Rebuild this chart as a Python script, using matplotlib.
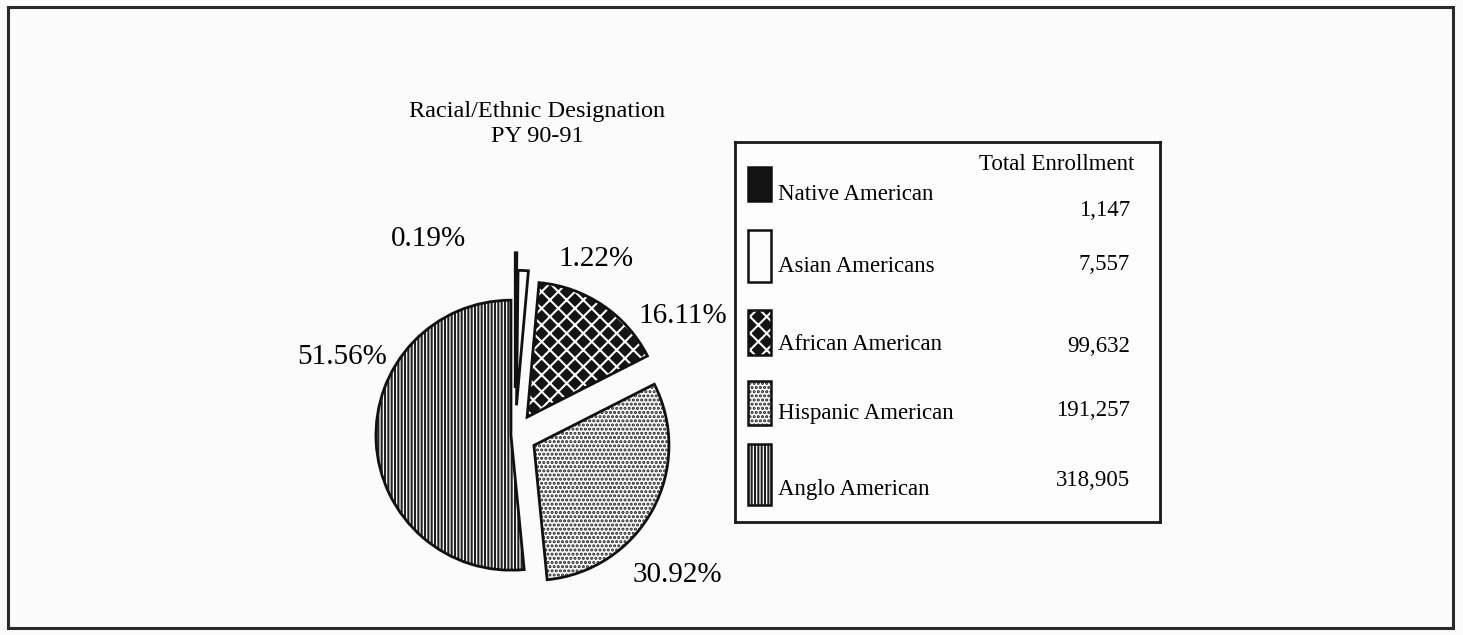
import matplotlib
matplotlib.use("Agg")
import matplotlib.pyplot as plt
from matplotlib.patches import Rectangle

plt.rcParams["font.family"] = ["Liberation Serif", "DejaVu Serif"]
plt.rcParams["hatch.linewidth"] = 1.5

# ---- data ----
groups = ["Native American", "Asian Americans", "African American",
          "Hispanic American", "Anglo American"]
enrollment = [1147, 7557, 99632, 191257, 318905]
title_lines = ["Racial/Ethnic Designation", "PY 90-91"]
value_header = "Total Enrollment"

# styles per group (face, hatch, hatch colour)
faces = ["#141414", "#fdfdfd", "#141414", "#fdfdfd", "#fdfdfd"]
hatches = [None, None, "xx", "....", "|||||"]
hatch_cols = ["#141414", "#141414", "#fdfdfd", "#202020", "#202020"]
explode = [0.35, 0.22, 0.16, 0.16, 0.03]

W, H, DPI = 1463, 635, 100
fig = plt.figure(figsize=(W / DPI, H / DPI), dpi=DPI)
fig.patch.set_facecolor("#fbfbfb")

# outer frame
fig.add_artist(Rectangle((8 / W, 7 / H), 1445 / W, 621 / H, transform=fig.transFigure,
                         fill=False, lw=2.2, ec="#2a2a2a"))

# ---- pie ----
R = 135.0
cx, cy = 515, H - 435
ax = fig.add_axes([(cx - 2 * R) / W, (cy - 1.4 * R) / H, 4 * R / W, 3.4 * R / H])
wedges, _, pcts = ax.pie(enrollment, explode=explode, startangle=90, counterclock=False,
                         autopct="%.2f%%", pctdistance=1.42,
                         wedgeprops=dict(lw=0), textprops=dict(fontsize=21))
for w, fc, h, hc in zip(wedges, faces, hatches, hatch_cols):
    w.set_facecolor(fc)
    w.set_edgecolor(hc)
    w.set_hatch(h)
# outlines on top
outl, _ = ax.pie(enrollment, explode=explode, startangle=90, counterclock=False,
                 wedgeprops=dict(fill=False, lw=2.0, ec="#111111"))
ax.set_xlim(-2, 2)
ax.set_ylim(-1.4, 2.0)

# place the two tiny-slice labels either side of the top
pcts[0].set_position((-0.64, 1.45))
pcts[1].set_position((0.60, 1.30))
pcts[2].set_position((1.24, 0.88))
pcts[3].set_position((1.20, -1.04))
pcts[4].set_position((-1.28, 0.58))

# title
fig.text(537 / W, 1 - 112 / H, title_lines[0], ha="center", va="center", fontsize=17.5)
fig.text(537 / W, 1 - 137 / H, title_lines[1], ha="center", va="center", fontsize=17.5)

# ---- legend box (pixel layout coords) ----
lg = fig.add_axes([735 / W, 1 - 522 / H, 425 / W, 380 / H])
lg.set_xlim(735, 1160)
lg.set_ylim(522, 142)
lg.set_xticks([])
lg.set_yticks([])
for s in lg.spines.values():
    s.set_linewidth(2.0)
    s.set_color("#1a1a1a")
lg.patch.set_facecolor("#fdfdfd")

lg.text(1057, 164, value_header, ha="center", va="center", fontsize=16.5)
sw_top = [167, 230, 310, 381, 444]
sw_h = [34, 52, 45, 44, 61]
lab_y = [195, 266, 345, 414, 490]
val_y = [210, 264, 347, 410, 481]
for i, g in enumerate(groups):
    lg.add_patch(Rectangle((748, sw_top[i]), 23, sw_h[i], facecolor=faces[i],
                           edgecolor=hatch_cols[i], hatch=hatches[i], lw=0))
    lg.add_patch(Rectangle((748, sw_top[i]), 23, sw_h[i], fill=False, lw=1.8, ec="#111111"))
    lg.text(778, lab_y[i], g, ha="left", va="center", fontsize=16.5)
    lg.text(1130, val_y[i], f"{enrollment[i]:,}", ha="right", va="center", fontsize=16.5)

fig.savefig("out.png", dpi=DPI, facecolor=fig.get_facecolor())
